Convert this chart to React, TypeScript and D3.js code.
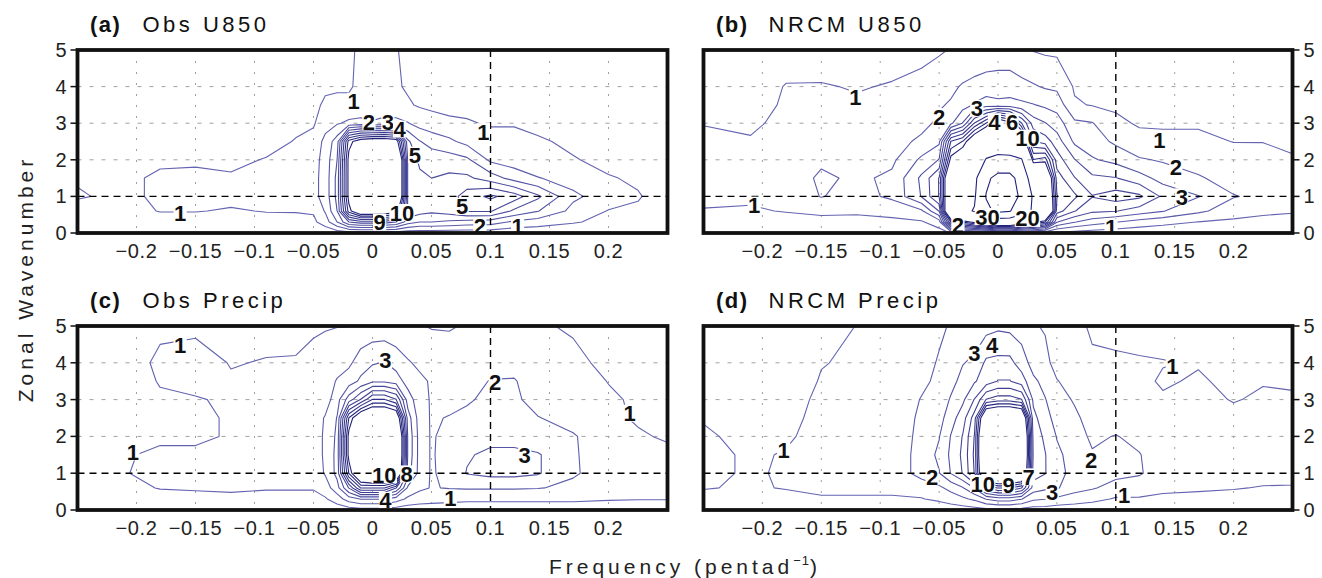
import React from "react";
import * as d3 from "d3";

// Frequency (pentad^-1) sample points of the gridded spectra (columns)
const FREQ = [-0.25, -0.21, -0.18, -0.15, -0.12, -0.09, -0.065, -0.05, -0.04, -0.03, -0.02, -0.01, 0, 0.01, 0.02, 0.03, 0.04, 0.05, 0.065, 0.08, 0.1, 0.12, 0.14, 0.17, 0.2, 0.225, 0.25];
// Zonal wavenumber sample points (values inside each column)
const WAVENUMBER = [0, 0.3, 0.6, 1, 1.5, 2, 2.5, 3, 3.5, 4, 5];

const FREQ_TICKS = [-0.2, -0.15, -0.1, -0.05, 0, 0.05, 0.1, 0.15, 0.2];
const FREQ_TICK_LABELS = ["−0.2", "−0.15", "−0.1", "−0.05", "0", "0.05", "0.1", "0.15", "0.2"];
const WAVE_TICKS = [0, 1, 2, 3, 4, 5];
const WAVE_TICK_LABELS = ["0", "1", "2", "3", "4", "5"];

const LEVELS_1_10 = [1, 2, 3, 4, 5, 6, 7, 8, 9, 10];
const LEVELS_NRCM_U850 = [1, 2, 3, 4, 5, 6, 7, 8, 9, 10, 20, 30, 40];

// Each inner array = one frequency column, values at WAVENUMBER points
const OBS_U850 = [
  [0.1, 0.4, 0.6, 1.1, 0.9, 0.6, 0.5, 0.4, 0.4, 0.3, 0.3],
  [0.1, 0.4, 0.6, 0.75, 0.75, 0.6, 0.5, 0.4, 0.4, 0.3, 0.3],
  [0.1, 0.5, 1.05, 1.2, 1.2, 0.8, 0.6, 0.5, 0.4, 0.3, 0.3],
  [0.1, 0.5, 1.05, 1.3, 1.3, 0.8, 0.6, 0.5, 0.4, 0.3, 0.3],
  [0.1, 0.5, 0.9, 1.3, 1.1, 0.8, 0.6, 0.5, 0.4, 0.3, 0.3],
  [0.2, 0.6, 1.05, 1.4, 1.4, 1.05, 0.7, 0.5, 0.4, 0.3, 0.3],
  [0.2, 0.7, 1.05, 1.5, 1.5, 1.4, 1.05, 0.8, 0.6, 0.5, 0.4],
  [0.2, 0.8, 1.1, 1.7, 1.7, 1.6, 1.3, 0.9, 0.7, 0.6, 0.5],
  [0.3, 1.5, 2.1, 2.4, 2.4, 2.4, 2.3, 1.6, 1.2, 0.8, 0.7],
  [0.4, 3, 4, 4.3, 4.3, 4.0, 3.5, 1.9, 1.2, 0.9, 0.8],
  [0.5, 5, 9.5, 10.5, 10.5, 10.5, 9.5, 2.2, 1.2, 0.9, 0.9],
  [0.5, 5.5, 12, 13, 13, 13, 11, 2.3, 1.3, 1.2, 1.1],
  [0.5, 5.5, 12, 14, 14, 14, 11.5, 2.1, 1.4, 1.2, 1.1],
  [0.5, 5.5, 11.5, 14, 14, 14, 11.5, 2.3, 1.4, 1.2, 1.1],
  [0.5, 5, 11, 15, 15, 15, 11, 2.3, 1.3, 1.1, 1.05],
  [0.4, 3.5, 4.8, 4.8, 4.8, 4.8, 4.2, 2.05, 1.1, 0.9, 0.8],
  [0.4, 3, 4.4, 4, 4.2, 3.8, 3.05, 1.6, 0.9, 0.7, 0.6],
  [0.4, 3, 4.2, 4, 4, 3.6, 2.6, 1.4, 0.8, 0.6, 0.5],
  [0.4, 2.8, 4.5, 4.5, 4.2, 3.5, 2.2, 1.2, 0.7, 0.6, 0.5],
  [0.4, 2.6, 5.1, 5.5, 4.2, 3.2, 1.7, 1.1, 0.7, 0.6, 0.5],
  [0.4, 2.5, 5.1, 6.2, 3.5, 1.8, 1.4, 0.9, 0.7, 0.5, 0.4],
  [0.3, 1.8, 3.8, 5.5, 2.6, 1.5, 1.2, 0.95, 0.7, 0.5, 0.4],
  [0.3, 1.5, 3.05, 4.2, 2.05, 1.3, 1.1, 0.8, 0.6, 0.5, 0.4],
  [0.2, 1.1, 1.7, 2.2, 1.6, 1.05, 0.85, 0.6, 0.5, 0.4, 0.3],
  [0.2, 0.7, 0.95, 1.5, 1.05, 0.8, 0.7, 0.5, 0.4, 0.4, 0.3],
  [0.1, 0.6, 0.9, 1.05, 0.9, 0.7, 0.6, 0.4, 0.4, 0.3, 0.3],
  [0.1, 0.5, 0.6, 0.7, 0.6, 0.5, 0.5, 0.3, 0.3, 0.3, 0.3],
];

const NRCM_U850 = [
  [0.2, 0.6, 0.9, 1.4, 1.5, 1.4, 1.3, 0.95, 0.8, 0.6, 0.4],
  [0.2, 0.5, 0.9, 1.15, 1.3, 1.1, 1.05, 0.9, 0.7, 0.5, 0.4],
  [0.2, 0.6, 1.05, 1.2, 1.3, 1.3, 1.2, 1.15, 1.1, 1.05, 0.5],
  [0.2, 0.7, 1.2, 2.05, 2.2, 1.8, 1.4, 1.3, 1.2, 1.05, 0.6],
  [0.2, 0.6, 1.2, 1.6, 1.8, 1.6, 1.4, 1.3, 1.1, 0.95, 0.6],
  [0.2, 0.8, 1.3, 2.2, 2.2, 1.8, 1.6, 1.4, 1.2, 1.05, 0.7],
  [0.3, 0.9, 1.8, 4.05, 4.2, 3.2, 2.2, 1.7, 1.4, 1.2, 0.8],
  [0.6, 1.5, 4.05, 6.05, 6.05, 4.05, 2.8, 2.2, 1.9, 1.5, 0.9],
  [1.05, 8.05, 16, 14, 14, 10.5, 8.05, 2.8, 2.1, 1.8, 1.05],
  [1.05, 9.05, 18, 15, 15, 12, 9.05, 4.05, 2.6, 2.1, 1.1],
  [1.05, 10.5, 20.5, 19, 18, 14, 12, 7.05, 3.1, 2.3, 1.2],
  [1.2, 12, 28, 30.5, 28, 20.5, 14, 9.05, 3.5, 2.4, 1.4],
  [1.5, 14, 32, 35, 33, 22, 15, 12, 3.3, 2.4, 1.5],
  [1.5, 14, 30.5, 35, 33, 22, 14, 10.5, 3.4, 2.4, 1.5],
  [1.3, 12, 24, 28, 26, 20.5, 12, 7.05, 3.2, 2.3, 1.1],
  [1.2, 10.5, 19, 19, 15, 9.05, 6.05, 4.5, 3.05, 2.1, 0.95],
  [1.05, 9.05, 17, 15, 14, 9.5, 5.5, 4.05, 2.8, 1.9, 0.85],
  [0.8, 4.05, 6.5, 7.05, 6.5, 5.5, 4.5, 3.5, 2.6, 1.8, 0.8],
  [0.6, 3.05, 5.05, 6.2, 5.05, 4.05, 2.8, 2.2, 1.1, 0.9, 0.6],
  [0.5, 2.5, 4.2, 5.05, 4.2, 3.1, 2.5, 2.05, 0.95, 0.8, 0.5],
  [0.4, 2.05, 4.05, 5.5, 4.05, 2.7, 1.8, 1.2, 0.85, 0.7, 0.4],
  [0.3, 1.6, 3.5, 5.2, 3.4, 2.1, 1.3, 0.9, 0.8, 0.6, 0.4],
  [0.3, 1.3, 3.05, 3.8, 2.6, 1.9, 1.2, 0.9, 0.7, 0.6, 0.4],
  [0.2, 0.98, 2.2, 3.05, 2.1, 1.6, 1.2, 0.9, 0.7, 0.5, 0.3],
  [0.2, 0.8, 1.5, 2.05, 1.6, 1.4, 0.98, 0.9, 0.7, 0.5, 0.3],
  [0.2, 0.7, 1.2, 1.8, 1.5, 1.3, 0.98, 0.8, 0.6, 0.5, 0.3],
  [0.2, 0.6, 1.1, 1.6, 1.4, 1.05, 0.9, 0.8, 0.6, 0.4, 0.3],
];

const OBS_PRECIP = [
  [0.1, 0.4, 0.7, 0.9, 0.8, 0.6, 0.5, 0.4, 0.4, 0.3, 0.3],
  [0.1, 0.4, 0.7, 0.95, 0.9, 0.8, 0.7, 0.7, 0.6, 0.5, 0.4],
  [0.1, 0.6, 1.05, 1.3, 1.2, 0.8, 0.8, 0.9, 1.05, 1.2, 0.8],
  [0.1, 0.7, 1.1, 1.3, 1.2, 0.8, 0.8, 0.95, 1.2, 1.4, 0.8],
  [0.2, 0.7, 1.2, 1.3, 1.3, 1.1, 1.1, 1.1, 1.1, 0.95, 0.7],
  [0.2, 0.6, 1.1, 1.3, 1.2, 1.1, 1.1, 1.1, 1.1, 1.05, 0.7],
  [0.2, 0.6, 1.1, 1.3, 1.3, 1.2, 1.2, 1.2, 1.2, 1.05, 0.8],
  [0.2, 0.6, 1.1, 1.4, 1.4, 1.4, 1.4, 1.4, 1.3, 1.2, 0.9],
  [0.3, 0.9, 1.5, 2.1, 2.2, 2.2, 2.1, 1.5, 1.4, 1.3, 0.95],
  [0.4, 1.5, 2.6, 3.3, 3.3, 3.2, 3.05, 2.6, 2.1, 1.5, 0.98],
  [0.5, 2.5, 5.05, 9.05, 10.5, 10.5, 9.05, 4.5, 2.5, 1.8, 0.98],
  [0.6, 3.05, 8.05, 13, 14, 14, 12, 6.05, 3.2, 2.5, 1.2],
  [0.6, 3.05, 8.05, 14, 15, 15, 13, 8.05, 3.8, 2.9, 1.3],
  [0.6, 3.05, 8.05, 14, 15, 15, 13, 8.05, 3.8, 3.05, 1.3],
  [0.5, 2.5, 6.05, 14, 15, 15, 12, 7.05, 3.5, 2.6, 1.2],
  [0.4, 1.8, 2.8, 4.5, 4.8, 4.8, 4.5, 3.5, 2.6, 2.1, 1.1],
  [0.4, 1.5, 2.2, 2.6, 2.6, 2.6, 2.5, 2.4, 2.2, 1.8, 1.05],
  [0.4, 1.4, 1.95, 1.9, 1.9, 1.9, 1.9, 1.9, 1.9, 1.5, 0.95],
  [0.4, 1.3, 2.05, 2.3, 2.4, 2.3, 2.05, 1.7, 1.5, 1.3, 0.95],
  [0.4, 1.2, 2.1, 3.05, 2.9, 2.5, 2.2, 1.9, 1.6, 1.3, 1.05],
  [0.4, 1.2, 2.1, 3.3, 3.2, 2.7, 2.4, 2.2, 2.05, 1.5, 1.05],
  [0.4, 1.2, 2.1, 3.3, 3.4, 2.4, 2.2, 2.2, 2.1, 1.5, 1.05],
  [0.4, 1.2, 2.05, 3.1, 3.1, 2.3, 2.05, 1.6, 1.3, 1.3, 1.05],
  [0.4, 1.2, 1.8, 2.1, 2.1, 2.1, 1.6, 1.4, 1.3, 1.1, 0.95],
  [0.3, 1.1, 1.5, 1.6, 1.5, 1.3, 1.2, 1.1, 0.98, 0.9, 0.8],
  [0.3, 1.05, 1.4, 1.5, 1.4, 1.1, 0.9, 0.9, 0.8, 0.8, 0.7],
  [0.3, 1.05, 1.3, 1.3, 1.2, 0.9, 0.8, 0.8, 0.7, 0.7, 0.6],
];

const NRCM_PRECIP = [
  [0.2, 0.7, 1.05, 1.2, 1.2, 1.1, 0.95, 0.7, 0.6, 0.5, 0.4],
  [0.2, 0.6, 0.9, 0.9, 0.9, 0.8, 0.7, 0.6, 0.6, 0.5, 0.4],
  [0.2, 0.7, 1.05, 1.1, 1.05, 0.9, 0.8, 0.7, 0.6, 0.5, 0.4],
  [0.2, 0.9, 1.2, 1.3, 1.3, 1.25, 1.2, 1.15, 1.05, 0.97, 0.6],
  [0.2, 0.9, 1.2, 1.3, 1.3, 1.3, 1.3, 1.2, 1.2, 1.1, 1.02],
  [0.2, 0.9, 1.2, 1.3, 1.3, 1.3, 1.3, 1.3, 1.2, 1.2, 1.1],
  [0.3, 0.95, 1.4, 2.4, 2.4, 2.3, 2.2, 2.05, 1.8, 1.6, 1.4],
  [0.3, 1.2, 1.8, 2.95, 3.2, 2.95, 2.6, 2.4, 2.2, 2.1, 1.8],
  [0.4, 1.5, 2.3, 4.05, 4.2, 4.05, 3.6, 3.1, 2.7, 2.5, 2.1],
  [0.5, 1.8, 2.9, 5.05, 5.2, 5.05, 4.5, 3.8, 3.3, 2.95, 2.3],
  [0.6, 2.2, 4.05, 7.05, 7.2, 7.05, 6.5, 5.05, 3.9, 3.2, 2.4],
  [0.7, 3.05, 7.05, 14, 15, 15, 13, 7.05, 4.5, 4.2, 2.6],
  [0.7, 3.5, 8.05, 15, 16, 16, 14, 7.5, 5.05, 4.3, 2.8],
  [0.7, 3.5, 8.05, 15, 16, 16, 14, 7.5, 5.05, 4.3, 2.7],
  [0.6, 3.05, 7.05, 14, 15, 15, 13, 7.05, 4.5, 3.5, 2.5],
  [0.5, 2.2, 3.5, 4.5, 4.8, 4.6, 4.3, 3.8, 3.2, 2.6, 2.1],
  [0.5, 2.05, 3.2, 4.05, 4.05, 3.8, 3.4, 3.05, 2.7, 2.3, 1.9],
  [0.4, 1.8, 3.1, 3.3, 3.2, 2.95, 2.6, 2.4, 2.05, 1.6, 1.2],
  [0.4, 1.5, 2.4, 2.7, 2.6, 2.5, 2.2, 1.9, 1.6, 1.4, 1.1],
  [0.3, 1.3, 2.1, 2.2, 2.1, 1.8, 1.6, 1.4, 1.2, 1.05, 0.95],
  [0.3, 0.9, 1.6, 2.3, 2.1, 2.05, 1.5, 1.2, 1.1, 1.05, 0.9],
  [0.3, 0.9, 1.5, 2.1, 2.05, 1.7, 1.4, 1.2, 1.1, 1.05, 0.8],
  [0.3, 0.8, 1.2, 1.5, 1.4, 1.4, 1.3, 1.05, 0.95, 1.02, 0.8],
  [0.3, 0.8, 1.1, 1.4, 1.4, 1.3, 1.2, 1.1, 1.05, 0.97, 0.8],
  [0.3, 0.7, 1.05, 1.3, 1.3, 1.2, 1.1, 0.98, 0.9, 0.8, 0.7],
  [0.3, 0.7, 0.95, 1.3, 1.3, 1.2, 1.1, 1.05, 0.98, 0.9, 0.7],
  [0.3, 0.7, 0.95, 1.2, 1.2, 1.2, 1.1, 1.05, 0.95, 0.9, 0.7],
];

// Contour labels: [text, frequency, wavenumber]
type Lab = [string, number, number];
const LABELS_OBS_U850: Lab[] = [
  ["1", -0.163, 0.54], ["1", -0.016, 3.6], ["2", -0.003, 3.04], ["3", 0.013, 3.04], ["4", 0.023, 2.84],
  ["5", 0.036, 2.13], ["9", 0.006, 0.3], ["10", 0.025, 0.56], ["1", 0.094, 2.77], ["5", 0.076, 0.73],
  ["2", 0.091, 0.2], ["1", 0.123, 0.19],
];
const LABELS_NRCM_U850: Lab[] = [
  ["1", -0.121, 3.72], ["1", -0.207, 0.76], ["2", -0.05, 3.18], ["3", -0.018, 3.41], ["4", -0.003, 3.04],
  ["6", 0.012, 3.04], ["10", 0.025, 2.59], ["2", -0.034, 0.22], ["30", -0.009, 0.45], ["20", 0.025, 0.4],
  ["1", 0.137, 2.54], ["2", 0.151, 1.81], ["3", 0.156, 0.99], ["1", 0.096, 0.17],
];
const LABELS_OBS_PRECIP: Lab[] = [
  ["1", -0.163, 4.48], ["1", -0.203, 1.58], ["3", 0.011, 4.08], ["2", 0.104, 3.49], ["3", 0.129, 1.49],
  ["1", 0.218, 2.63], ["10", 0.01, 0.96], ["8", 0.029, 0.98], ["4", 0.011, 0.26], ["1", 0.066, 0.32],
];
const LABELS_NRCM_PRECIP: Lab[] = [
  ["1", -0.182, 1.63], ["2", -0.056, 0.9], ["3", -0.02, 4.26], ["4", -0.005, 4.48], ["10", -0.013, 0.72],
  ["9", 0.009, 0.68], ["7", 0.026, 0.9], ["3", 0.046, 0.5], ["2", 0.079, 1.36], ["1", 0.148, 3.9],
  ["1", 0.107, 0.41],
];

const PANELS = [
  { id: "a", letter: "(a)", title: "Obs U850", cols: OBS_U850, levels: LEVELS_1_10, labels: LABELS_OBS_U850, col: 0, row: 0 },
  { id: "b", letter: "(b)", title: "NRCM U850", cols: NRCM_U850, levels: LEVELS_NRCM_U850, labels: LABELS_NRCM_U850, col: 1, row: 0 },
  { id: "c", letter: "(c)", title: "Obs Precip", cols: OBS_PRECIP, levels: LEVELS_1_10, labels: LABELS_OBS_PRECIP, col: 0, row: 1 },
  { id: "d", letter: "(d)", title: "NRCM Precip", cols: NRCM_PRECIP, levels: LEVELS_1_10, labels: LABELS_NRCM_PRECIP, col: 1, row: 1 },
];

const COL_X = [[77.5, 667.5], [703.5, 1292.5]];
const ROW_Y = [[50, 233], [326, 510]];
const FONT = "'Liberation Sans', Arial, Helvetica, sans-serif";

function Panel({ p }: { p: (typeof PANELS)[number] }) {
  const [x0, x1] = COL_X[p.col];
  const [y0, y1] = ROW_Y[p.row];
  const x = d3.scaleLinear().domain([-0.25, 0.25]).range([x0, x1]);
  const y = d3.scaleLinear().domain([0, 5]).range([y1, y0]);
  const nx = FREQ.length;
  const ny = WAVENUMBER.length;
  const fi = d3.scaleLinear().domain(d3.range(nx)).range(FREQ).clamp(true);
  const wi = d3.scaleLinear().domain(d3.range(ny)).range(WAVENUMBER).clamp(true);
  const values: number[] = new Array(nx * ny);
  for (let j = 0; j < ny; j++) for (let i = 0; i < nx; i++) values[j * nx + i] = p.cols[i][j];
  const contours = d3.contours().size([nx, ny]).thresholds(p.levels)(values);
  const transform = d3.geoTransform({
    point(px: number, py: number) {
      (this as any).stream.point(x(fi(px - 0.5)), y(wi(py - 0.5)));
    },
  });
  const path = d3.geoPath(transform as any);
  const color = d3
    .scaleLinear<string>()
    .domain([0, 9])
    .range(["#6464b2", "#22227a"])
    .clamp(true);
  const clipId = `clip-${p.id}`;
  const leftAxis = p.col === 0;

  return (
    <g>
      <defs>
        <clipPath id={clipId}>
          <rect x={x0} y={y0} width={x1 - x0} height={y1 - y0} />
        </clipPath>
      </defs>
      <g clipPath={`url(#${clipId})`}>
        {FREQ_TICKS.filter((t) => t !== 0.1).map((t) => (
          <line key={"gx" + t} x1={x(t)} x2={x(t)} y1={y0} y2={y1} stroke="#a0a0a0" strokeWidth={1} strokeDasharray="2,9" />
        ))}
        {[2, 3, 4].map((t) => (
          <line key={"gy" + t} x1={x0} x2={x1} y1={y(t)} y2={y(t)} stroke="#a0a0a0" strokeWidth={1} strokeDasharray="4,8" />
        ))}
        {contours.map((c, i) => (
          <path key={"c" + i} d={path(c as any) || ""} fill="none" stroke={color(i)} strokeWidth={1.1} strokeLinejoin="round" />
        ))}
        <line x1={x0} x2={x1} y1={y(1)} y2={y(1)} stroke="#000" strokeWidth={1.4} strokeDasharray="7,5" />
        <line x1={x(0.1)} x2={x(0.1)} y1={y0} y2={y1} stroke="#000" strokeWidth={1.4} strokeDasharray="7,5" />
        {p.labels.map((l, i) => {
          const w = l[0].length * 12.2 + 1;
          const cx = x(l[1]);
          const cy = y(l[2]);
          return (
            <g key={"l" + i}>
              <rect x={cx - w / 2} y={cy - 8.5} width={w} height={17} fill="#fff" />
              <text x={cx} y={cy + 8} textAnchor="middle" fontFamily={FONT} fontWeight="bold" fontSize={22} fill="#111">
                {l[0]}
              </text>
            </g>
          );
        })}
      </g>
      <rect x={x0} y={y0} width={x1 - x0} height={y1 - y0} fill="none" stroke="#111" strokeWidth={3.8} />
      {WAVE_TICKS.map((t, i) =>
        leftAxis ? (
          <g key={"yt" + t}>
            <line x1={x0 - 7} x2={x0} y1={y(t)} y2={y(t)} stroke="#111" strokeWidth={1.5} />
            <text x={x0 - 11} y={y(t) + 7} textAnchor="end" fontFamily={FONT} fontSize={20} fill="#222">
              {WAVE_TICK_LABELS[i]}
            </text>
          </g>
        ) : (
          <g key={"yt" + t}>
            <line x1={x1} x2={x1 + 7} y1={y(t)} y2={y(t)} stroke="#111" strokeWidth={1.5} />
            <text x={x1 + 11} y={y(t) + 7} textAnchor="start" fontFamily={FONT} fontSize={20} fill="#222">
              {WAVE_TICK_LABELS[i]}
            </text>
          </g>
        )
      )}
      {FREQ_TICKS.map((t, i) => (
        <text key={"xt" + t} x={x(t)} y={y1 + 25} textAnchor="middle" fontFamily={FONT} fontSize={20} letterSpacing={0.6} fill="#222">
          {FREQ_TICK_LABELS[i]}
        </text>
      ))}
      <text x={x0 + 12.5} y={y0 - 18} fontFamily={FONT} fontWeight="bold" fontSize={22} letterSpacing={1.5} fill="#111">
        {p.letter}
      </text>
      <text x={x0 + 65} y={y0 - 18} fontFamily={FONT} fontSize={22} letterSpacing={3.5} fill="#111">
        {p.title}
      </text>
    </g>
  );
}

export default function App() {
  return (
    <svg width={1322} height={578} style={{ position: "absolute", left: 0, top: 0, background: "#fff" }}>
      <rect x={0} y={0} width={1322} height={578} fill="#fff" />
      {PANELS.map((p) => (
        <Panel key={p.id} p={p} />
      ))}
      <text transform="translate(33,279) rotate(-90)" textAnchor="middle" fontFamily={FONT} fontSize={21} letterSpacing={4} fill="#222">
        Zonal Wavenumber
      </text>
      <text x={685} y={574} textAnchor="middle" fontFamily={FONT} fontSize={21} letterSpacing={4} fill="#222">
        Frequency (pentad
        <tspan dy={-9} fontSize={13} letterSpacing={1}>−1</tspan>
        <tspan dy={9}>)</tspan>
      </text>
    </svg>
  );
}
